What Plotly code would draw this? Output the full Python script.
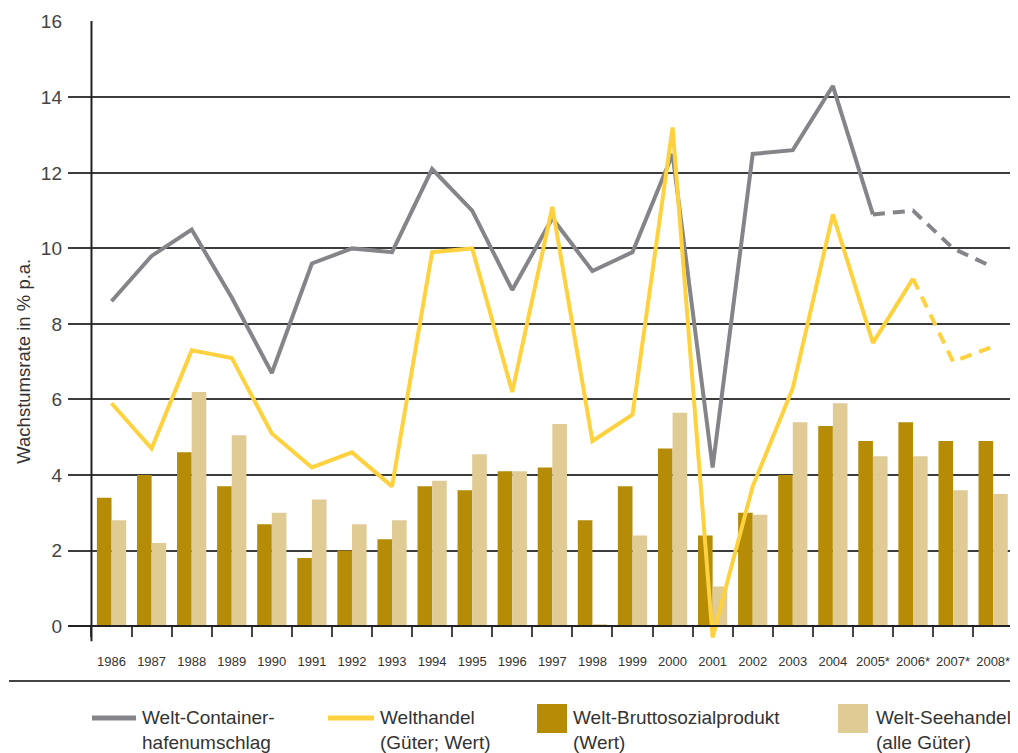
import plotly.graph_objects as go

years = ["1986", "1987", "1988", "1989", "1990", "1991", "1992", "1993", "1994", "1995",
         "1996", "1997", "1998", "1999", "2000", "2001", "2002", "2003", "2004",
         "2005*", "2006*", "2007*", "2008*"]
container = [8.6, 9.8, 10.5, 8.7, 6.7, 9.6, 10.0, 9.9, 12.1, 11.0, 8.9, 10.8, 9.4, 9.9,
             12.5, 4.2, 12.5, 12.6, 14.3, 10.9, 11.0, 10.0, 9.5]
welthandel = [5.9, 4.7, 7.3, 7.1, 5.1, 4.2, 4.6, 3.7, 9.9, 10.0, 6.2, 11.1, 4.9, 5.6,
              13.2, -0.3, 3.7, 6.3, 10.9, 7.5, 9.2, 7.0, 7.4]
bsp = [3.4, 4.0, 4.6, 3.7, 2.7, 1.8, 2.0, 2.3, 3.7, 3.6, 4.1, 4.2, 2.8, 3.7,
       4.7, 2.4, 3.0, 4.0, 5.3, 4.9, 5.4, 4.9, 4.9]
seehandel = [2.8, 2.2, 6.2, 5.05, 3.0, 3.35, 2.7, 2.8, 3.85, 4.55, 4.1, 5.35, 0.05, 2.4,
             5.65, 1.05, 2.95, 5.4, 5.9, 4.5, 4.5, 3.6, 3.5]
yticks = [0, 2, 4, 6, 8, 10, 12, 14, 16]

C_GRAY = "#858488"
C_YEL = "#fdd23e"
C_DARK = "#b68b06"
C_LIGHT = "#e0cb94"
C_AX = "#222222"

OFF = 8  # page body margin
W, H = 1018 - OFF, 753 - OFF
ML, MR, MT, MB = 60, 0, 13, 108
PW, PH = W - ML - MR, H - MT - MB

def px(x):
    return (x - OFF - ML) / PW

def py(y):
    return (H - MB - (y - OFF)) / PH

fig = go.Figure()
fig.add_trace(go.Bar(x=years, y=bsp, marker=dict(color=C_DARK, line=dict(width=0)),
                     name="Welt-Bruttosozialprodukt (Wert)", showlegend=False))
fig.add_trace(go.Bar(x=years, y=seehandel, marker=dict(color=C_LIGHT, line=dict(width=0)),
                     name="Welt-Seehandel (alle Güter)", showlegend=False))

i_c = years.index("2005*")
fig.add_trace(go.Scatter(x=years[:i_c + 1], y=container[:i_c + 1], mode="lines",
                         line=dict(color=C_GRAY, width=4), showlegend=False))
fig.add_trace(go.Scatter(x=years[i_c:], y=container[i_c:], mode="lines",
                         line=dict(color=C_GRAY, width=4, dash="12px,8px"), showlegend=False))
i_w = years.index("2006*")
fig.add_trace(go.Scatter(x=years[:i_w + 1], y=welthandel[:i_w + 1], mode="lines",
                         line=dict(color=C_YEL, width=4), showlegend=False))
fig.add_trace(go.Scatter(x=years[i_w:], y=welthandel[i_w:], mode="lines",
                         line=dict(color=C_YEL, width=4, dash="12px,8px"), showlegend=False))

ymin, ymax = -0.5, 16.02
fig.update_layout(
    width=W, height=H,
    margin=dict(l=ML, r=MR, t=MT, b=MB, pad=0),
    paper_bgcolor="white", plot_bgcolor="white",
    barmode="group", bargap=0.27, bargroupgap=0,
    font=dict(family="Liberation Sans, Arial, sans-serif", color="#333333"),
    xaxis=dict(type="category", range=[-1.086, 22.62], anchor="free",
               position=(0 - ymin) / (ymax - ymin),
               showline=True, linecolor=C_AX, linewidth=2,
               ticks="outside", tickson="boundaries", ticklen=10, tickwidth=1.5,
               tickcolor="#444444", showgrid=False, tickangle=0,
               tickfont=dict(size=13, color="#333333"), ticklabelstandoff=23),
    yaxis=dict(range=[ymin, ymax], tickvals=yticks, showgrid=True, gridcolor="#3c3c3c",
               gridwidth=1.5, zeroline=False, showline=False, ticks="",
               tickfont=dict(size=19, color="#444444"), ticklabelstandoff=5),
)

fig.add_shape(type="line", xref="x", yref="y", x0=-0.5, x1=-0.5, y0=-0.4, y1=16.05,
              line=dict(color=C_AX, width=2), layer="above")

fig.add_annotation(text="Wachstumsrate in % p.a.", xref="paper", yref="y",
                   x=px(24), y=7.0, textangle=-90, showarrow=False,
                   font=dict(size=18.5, color="#333333"), xanchor="center", yanchor="middle")

fig.add_shape(type="line", xref="paper", yref="paper", x0=px(9), x1=px(1018),
              y0=py(681), y1=py(681), line=dict(color="#444444", width=2))

lf = dict(size=19, color="#333333")
fig.add_shape(type="line", xref="paper", yref="paper", x0=px(92), x1=px(136),
              y0=py(718), y1=py(718), line=dict(color=C_GRAY, width=5))
fig.add_annotation(text="Welt-Container-<br>hafenumschlag", xref="paper", yref="paper",
                   x=px(140), y=py(730), xanchor="left", yanchor="middle", align="left",
                   showarrow=False, font=lf)
fig.add_shape(type="line", xref="paper", yref="paper", x0=px(328), x1=px(374),
              y0=py(718), y1=py(718), line=dict(color=C_YEL, width=5))
fig.add_annotation(text="Welthandel<br>(Güter; Wert)", xref="paper", yref="paper",
                   x=px(378), y=py(730), xanchor="left", yanchor="middle", align="left",
                   showarrow=False, font=lf)
fig.add_shape(type="rect", xref="paper", yref="paper", x0=px(537), x1=px(567),
              y0=py(733), y1=py(704), fillcolor=C_DARK, line=dict(width=0))
fig.add_annotation(text="Welt-Bruttosozialprodukt<br>(Wert)", xref="paper", yref="paper",
                   x=px(571), y=py(730), xanchor="left", yanchor="middle", align="left",
                   showarrow=False, font=lf)
fig.add_shape(type="rect", xref="paper", yref="paper", x0=px(838), x1=px(868),
              y0=py(733), y1=py(704), fillcolor=C_LIGHT, line=dict(width=0))
fig.add_annotation(text="Welt-Seehandel<br>(alle Güter)", xref="paper", yref="paper",
                   x=px(874), y=py(730), xanchor="left", yanchor="middle", align="left",
                   showarrow=False, font=lf)

fig.write_html("out.html")
